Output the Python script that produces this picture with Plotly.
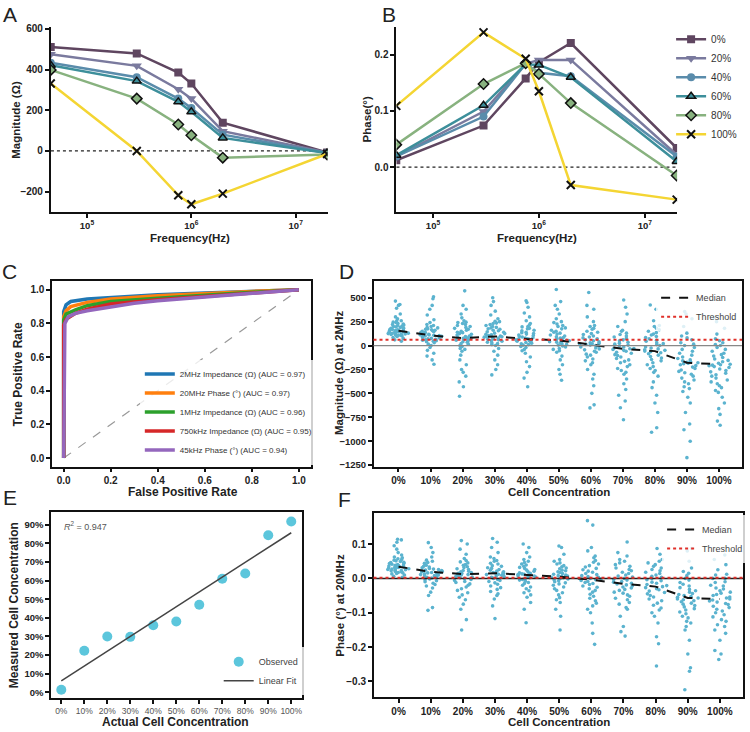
import numpy as np
import plotly.graph_objects as go

W, H = 750, 732
FONT = "Liberation Sans, Arial, sans-serif"

# ---------------- data: panels A / B ----------------
freq_hz = [45e3, 300e3, 750e3, 1e6, 2e6, 20e6]
series_names = ["0%", "20%", "40%", "60%", "80%", "100%"]
mag_0 = [510, 479, 385, 331, 139, -8]
mag_20 = [475, 418, 303, 257, 97, -8]
mag_40 = [433, 362, 257, 211, 80, -10]
mag_60 = [421, 343, 241, 192, 64, -10]
mag_80 = [398, 257, 130, 77, -33, -18]
mag_100 = [331, 0, -218, -262, -210, -15]
phase_0 = [0.012, 0.074, 0.158, 0.187, 0.221, 0.034]
phase_20 = [0.019, 0.099, 0.184, 0.191, 0.191, 0.022]
phase_40 = [0.019, 0.090, 0.184, 0.168, 0.162, 0.019]
phase_60 = [0.021, 0.110, 0.183, 0.182, 0.160, 0.010]
phase_80 = [0.040, 0.148, 0.185, 0.166, 0.114, -0.015]
phase_100 = [0.109, 0.240, 0.193, 0.135, -0.032, -0.058]

# ---------------- data: panel C (ROC) ----------------
roc_names = ["2MHz Impedance (\u03a9) (AUC = 0.97)", "20MHz Phase (\u00b0) (AUC = 0.97)",
             "1MHz Impedance (\u03a9) (AUC = 0.96)", "750kHz Impedance (\u03a9) (AUC = 0.95)",
             "45kHz Phase (\u00b0) (AUC = 0.94)"]
fpr_2mhz = [0, 0, 0.01, 0.03, 0.1, 0.2, 0.4, 0.6, 0.8, 1.0]
tpr_2mhz = [0, 0.87, 0.91, 0.93, 0.945, 0.955, 0.97, 0.98, 0.99, 1.0]
fpr_20mhz = [0, 0, 0.01, 0.03, 0.1, 0.2, 0.4, 0.6, 0.8, 1.0]
tpr_20mhz = [0, 0.84, 0.875, 0.9, 0.925, 0.945, 0.965, 0.98, 0.99, 1.0]
fpr_1mhz = [0, 0, 0.01, 0.05, 0.1, 0.2, 0.4, 0.6, 0.8, 1.0]
tpr_1mhz = [0, 0.82, 0.855, 0.88, 0.905, 0.93, 0.95, 0.97, 0.985, 1.0]
fpr_750k = [0, 0, 0.01, 0.05, 0.1, 0.2, 0.4, 0.6, 0.8, 1.0]
tpr_750k = [0, 0.79, 0.825, 0.86, 0.885, 0.915, 0.94, 0.96, 0.98, 1.0]
fpr_45k = [0, 0.005, 0.02, 0.05, 0.1, 0.2, 0.3, 0.4, 0.6, 0.8, 1.0]
tpr_45k = [0, 0.80, 0.84, 0.86, 0.875, 0.9, 0.92, 0.935, 0.955, 0.975, 1.0]
chance_x = [0, 1]
chance_y = [0, 1]

# ---------------- data: panels D / F ----------------
conc_labels = ["0%", "10%", "20%", "30%", "40%", "50%", "60%", "70%", "80%", "90%", "100%"]
mag2mhz = [
    [465, 430, 420, 390, 330, 300, 280, 260, 245, 230, 220, 210, 200, 195, 185, 180, 170, 165, 160, 155, 150, 145, 140, 135, 130, 125, 120, 115, 110, 100, 95, 85, 75, 60, 45,
     260, 240, 225, 215, 205, 190, 178, 168, 158, 152, 148, 142, 138, 128, 122, 118, 108, 104],
    [510, 490, 420, 380, 320, 270, 240, 220, 200, 185, 170, 160, 150, 140, 130, 120, 112, 107, 100, 92, 85, 75, 65, 55, 45, 30, 15, 0, -20, -50, -80, -110, -150, -196,
     210, 190, 175, 165, 155, 145, 135, 125, 118, 110, 104, 97, 90, 80, 70, 60, 50, 40],
    [572, 420, 380, 330, 290, 260, 240, 220, 200, 180, 160, 140, 125, 110, 95, 85, 79, 70, 55, 40, 20, 0, -30, -60, -100, -150, -200, -250, -280, -320, -380, -430, -530,
     245, 230, 210, 190, 170, 150, 135, 118, 100, 90, 82, 75, 65, 50, 35, 15, -10, -40],
    [500, 460, 420, 360, 320, 280, 250, 230, 210, 190, 175, 160, 145, 130, 118, 105, 96, 88, 78, 65, 50, 35, 20, 0, -30, -60, -100, -150, -200, -250, -307,
     255, 235, 220, 200, 185, 170, 155, 140, 125, 112, 100, 92, 84, 72, 60, 45, 30, 10],
    [469, 450, 400, 340, 300, 260, 230, 200, 180, 160, 140, 125, 110, 95, 82, 69, 60, 50, 38, 25, 10, -10, -40, -80, -120, -170, -220, -280, -340, -431,
     215, 195, 175, 155, 135, 120, 105, 90, 78, 72, 66, 55, 45, 32, 18, 5, -20, -55],
    [586, 460, 420, 380, 330, 280, 240, 210, 185, 160, 140, 120, 100, 85, 70, 55, 45, 35, 20, 5, -15, -40, -70, -110, -150, -200, -250, -300, -362,
     250, 225, 200, 175, 150, 130, 110, 92, 78, 62, 58, 50, 40, 28, 12, -5, -30, -55],
    [555, 420, 380, 300, 250, 210, 180, 150, 125, 100, 80, 60, 40, 25, 10, 0, -15, -35, -60, -90, -120, -160, -200, -250, -300, -350, -420, -500, -620, -652,
     200, 170, 140, 115, 90, 70, 50, 30, 18, 12, 5, -5, -25, -45, -70, -100, -140, -180],
    [476, 400, 330, 250, 200, 160, 130, 100, 75, 50, 25, 5, -15, -34, -50, -70, -95, -120, -150, -180, -220, -260, -300, -350, -400, -460, -520, -580, -650, -776,
     150, 115, 90, 60, 35, 15, -5, -25, -30, -40, -60, -80, -105, -135, -165, -200, -240, -280],
    [424, 380, 260, 210, 180, 150, 120, 95, 70, 45, 20, 0, -25, -45, -58, -75, -100, -130, -160, -200, -240, -280, -320, -380, -440, -520, -600, -700, -860, -907,
     200, 165, 135, 110, 85, 55, 30, 10, -15, -35, -50, -65, -85, -115, -145, -180, -220, -260],
    [355, 330, 280, 200, 130, 80, 30, 0, -40, -80, -120, -150, -170, -179, -190, -210, -240, -270, -300, -340, -380, -430, -480, -540, -600, -700, -820, -880, -1000, -1172,
     100, 60, 15, -20, -60, -100, -135, -160, -175, -185, -200, -225, -255, -285, -320, -360, -400, -450],
    [293, 250, 180, 120, 70, 30, 0, -40, -80, -110, -140, -170, -196, -210, -230, -260, -290, -320, -360, -400, -440, -490, -540, -600, -660, -720, -790, -834,
     50, 10, -20, -60, -95, -125, -155, -185, -200, -205, -220, -245, -275, -305, -340, -380, -420, -470],
]
mag2mhz_median = [155, 107, 79, 96, 69, 55, 10, -34, -58, -179, -196]
mag2mhz_threshold = 62

phase20mhz = [
    [0.114, 0.112, 0.105, 0.095, 0.085, 0.075, 0.068, 0.062, 0.057, 0.053, 0.049, 0.046, 0.043, 0.040, 0.038, 0.036, 0.034, 0.032, 0.030, 0.028, 0.026, 0.024, 0.022, 0.019, 0.016, 0.013, 0.010, 0.006, 0.003,
     0.060, 0.055, 0.051, 0.047, 0.044, 0.041, 0.039, 0.037, 0.035, 0.033, 0.031, 0.029, 0.027, 0.025, 0.023, 0.020, 0.017, 0.014],
    [0.104, 0.09, 0.075, 0.062, 0.053, 0.046, 0.040, 0.035, 0.031, 0.027, 0.024, 0.021, 0.019, 0.017, 0.014, 0.011, 0.008, 0.005, 0.001, -0.004, -0.010, -0.018, -0.028, -0.040, -0.050, -0.085, -0.093,
     0.050, 0.044, 0.038, 0.033, 0.029, 0.026, 0.023, 0.020, 0.018, 0.016, 0.013, 0.010, 0.007, 0.003, -0.002, -0.007, -0.014, -0.022],
    [0.11, 0.10, 0.085, 0.07, 0.058, 0.048, 0.040, 0.034, 0.028, 0.023, 0.019, 0.015, 0.0125, 0.010, 0.006, 0.002, -0.003, -0.009, -0.016, -0.025, -0.035, -0.048, -0.062, -0.075, -0.09, -0.12, -0.15,
     0.052, 0.045, 0.038, 0.032, 0.026, 0.021, 0.017, 0.014, 0.011, 0.008, 0.004, 0.0, -0.006, -0.012, -0.02, -0.03, -0.042, -0.055],
    [0.116, 0.105, 0.09, 0.075, 0.062, 0.052, 0.044, 0.037, 0.031, 0.026, 0.021, 0.017, 0.015, 0.012, 0.009, 0.005, 0.0, -0.006, -0.013, -0.022, -0.032, -0.045, -0.06, -0.08, -0.117,
     0.058, 0.05, 0.042, 0.035, 0.029, 0.024, 0.019, 0.016, 0.014, 0.011, 0.007, 0.003, -0.003, -0.009, -0.017, -0.027, -0.038, -0.05],
    [0.10, 0.09, 0.075, 0.062, 0.05, 0.042, 0.035, 0.029, 0.024, 0.019, 0.015, 0.012, 0.010, 0.007, 0.004, 0.0, -0.005, -0.012, -0.02, -0.03, -0.042, -0.055, -0.07, -0.09, -0.129,
     0.055, 0.046, 0.039, 0.032, 0.026, 0.021, 0.016, 0.013, 0.011, 0.008, 0.005, 0.002, -0.003, -0.008, -0.015, -0.025, -0.036, -0.048],
    [0.094, 0.09, 0.07, 0.055, 0.045, 0.037, 0.030, 0.024, 0.019, 0.014, 0.010, 0.007, 0.005, 0.002, -0.002, -0.007, -0.013, -0.02, -0.03, -0.042, -0.056, -0.07, -0.09, -0.11, -0.15,
     0.05, 0.042, 0.034, 0.028, 0.022, 0.017, 0.012, 0.008, 0.006, 0.003, 0.0, -0.004, -0.01, -0.016, -0.025, -0.035, -0.048, -0.062],
    [0.168, 0.155, 0.09, 0.08, 0.065, 0.052, 0.042, 0.033, 0.025, 0.018, 0.011, 0.005, 0.0, -0.004, -0.009, -0.015, -0.022, -0.03, -0.04, -0.052, -0.065, -0.08, -0.1, -0.13, -0.16, -0.192,
     0.06, 0.047, 0.037, 0.029, 0.021, 0.014, 0.008, 0.003, -0.002, -0.006, -0.012, -0.018, -0.026, -0.035, -0.046, -0.058, -0.072, -0.09],
    [0.106, 0.075, 0.065, 0.05, 0.04, 0.03, 0.022, 0.014, 0.007, 0.0, -0.005, -0.011, -0.016, -0.022, -0.028, -0.035, -0.043, -0.052, -0.062, -0.075, -0.09, -0.11, -0.14, -0.155, -0.168,
     0.055, 0.045, 0.035, 0.026, 0.018, 0.01, 0.004, -0.003, -0.009, -0.014, -0.019, -0.025, -0.032, -0.04, -0.048, -0.058, -0.07, -0.085],
    [0.087, 0.07, 0.055, 0.045, 0.035, 0.026, 0.018, 0.01, 0.003, -0.004, -0.011, -0.018, -0.024, -0.03, -0.037, -0.045, -0.054, -0.065, -0.078, -0.092, -0.11, -0.13, -0.17, -0.19, -0.255,
     0.05, 0.04, 0.03, 0.022, 0.014, 0.006, 0.0, -0.007, -0.014, -0.021, -0.027, -0.033, -0.041, -0.05, -0.06, -0.072, -0.086, -0.1],
    [0.087, 0.08, 0.05, 0.03, 0.015, 0.0, -0.012, -0.022, -0.032, -0.04, -0.047, -0.053, -0.057, -0.062, -0.068, -0.075, -0.083, -0.092, -0.103, -0.115, -0.13, -0.15, -0.18, -0.22, -0.26, -0.27, -0.324,
     0.02, 0.008, -0.005, -0.017, -0.027, -0.036, -0.044, -0.05, -0.055, -0.06, -0.065, -0.072, -0.079, -0.088, -0.098, -0.11, -0.125, -0.14],
    [0.068, 0.055, 0.04, 0.025, 0.012, 0.0, -0.012, -0.022, -0.031, -0.04, -0.047, -0.054, -0.06, -0.066, -0.073, -0.081, -0.09, -0.1, -0.112, -0.125, -0.14, -0.16, -0.18, -0.21, -0.22, -0.236,
     0.01, 0.0, -0.01, -0.02, -0.028, -0.036, -0.043, -0.05, -0.057, -0.063, -0.069, -0.076, -0.085, -0.095, -0.106, -0.12, -0.135, -0.15],
]
phase20mhz_median = [0.034, 0.019, 0.0125, 0.015, 0.010, 0.005, -0.004, -0.016, -0.024, -0.057, -0.060]
phase20mhz_threshold = 0.002

# ---------------- data: panel E ----------------
actual_conc = [0, 10, 20, 30, 40, 50, 60, 70, 80, 90, 100]
measured_conc = [1.4, 22.3, 30.0, 29.8, 36.0, 38.0, 47.0, 61.0, 63.8, 84.4, 91.7]
measured_ticks = [0, 10, 20, 30, 40, 50, 60, 70, 80, 90]
r2_text = "0.947"

# ---------------- styles ----------------
series_colors = ["#5f4660", "#7a7a9e", "#5a8cab", "#3d8f9b", "#88b27f", "#f4d533"]
series_markers = [
    dict(symbol="square", size=8, color=series_colors[0]),
    dict(symbol="triangle-down", size=9, color=series_colors[1]),
    dict(symbol="circle", size=8, color=series_colors[2]),
    dict(symbol="triangle-up", size=8, color=series_colors[3], line=dict(color="#111", width=1.5)),
    dict(symbol="diamond", size=8, color=series_colors[4], line=dict(color="#111", width=1.5)),
    dict(symbol="x-thin", size=8, color="#111", line=dict(color="#111", width=2)),
]
roc_colors = ["#1f77b4", "#ff7f0e", "#2ca02c", "#d62728", "#9467bd"]
dot_color = "#5bb3cf"


def dom(x0, x1, y0, y1):
    return [x0 / W, x1 / W], [1 - y1 / H, 1 - y0 / H]


fig = go.Figure()

mags = [mag_0, mag_20, mag_40, mag_60, mag_80, mag_100]
phases = [phase_0, phase_20, phase_40, phase_60, phase_80, phase_100]
for i, name in enumerate(series_names):
    fig.add_trace(go.Scatter(x=freq_hz, y=mags[i], mode="lines+markers", name=name,
                             line=dict(color=series_colors[i], width=2.5),
                             marker=series_markers[i], showlegend=False,
                             xaxis="x", yaxis="y"))
for i, name in enumerate(series_names):
    fig.add_trace(go.Scatter(x=freq_hz, y=phases[i], mode="lines+markers", name=name,
                             line=dict(color=series_colors[i], width=2.5),
                             marker=series_markers[i], showlegend=True, legend="legend",
                             xaxis="x2", yaxis="y2"))

# panel C
roc_x = [fpr_2mhz, fpr_20mhz, fpr_1mhz, fpr_750k, fpr_45k]
roc_y = [tpr_2mhz, tpr_20mhz, tpr_1mhz, tpr_750k, tpr_45k]
fig.add_trace(go.Scatter(x=chance_x, y=chance_y, mode="lines", showlegend=False,
                         line=dict(color="#999", width=1.2, dash="dash"), xaxis="x3", yaxis="y3"))
for i, name in enumerate(roc_names):
    fig.add_trace(go.Scatter(x=roc_x[i], y=roc_y[i], mode="lines", name=name,
                             line=dict(color=roc_colors[i], width=3.5),
                             legend="legend2", xaxis="x3", yaxis="y3"))


def strip(values, axx, axy):
    xs, ys = [], []
    for k, vals in enumerate(values):
        xs += [k] * len(vals)
        ys += vals
    return go.Box(x=xs, y=ys, boxpoints="all", jitter=1, pointpos=0, width=0.72,
                  fillcolor="rgba(0,0,0,0)", line=dict(color="rgba(0,0,0,0)", width=0),
                  marker=dict(size=3.6, color=dot_color), showlegend=False,
                  xaxis=axx, yaxis=axy, hoveron="points")


cat_idx = list(range(len(conc_labels)))

# panel D
fig.add_trace(strip(mag2mhz, "x4", "y4"))
fig.add_trace(go.Scatter(x=cat_idx, y=mag2mhz_median, mode="lines", name="Median",
                         line=dict(color="#111", width=2, dash="dash"),
                         legend="legend3", xaxis="x4", yaxis="y4"))
fig.add_trace(go.Scatter(x=[None], y=[None], mode="lines", name="Threshold",
                         line=dict(color="#e0302a", width=2, dash="dot"),
                         legend="legend3", xaxis="x4", yaxis="y4"))

# panel F
fig.add_trace(strip(phase20mhz, "x6", "y6"))
fig.add_trace(go.Scatter(x=cat_idx, y=phase20mhz_median, mode="lines", name="Median",
                         line=dict(color="#111", width=2, dash="dash"),
                         legend="legend5", xaxis="x6", yaxis="y6"))
fig.add_trace(go.Scatter(x=[None], y=[None], mode="lines", name="Threshold",
                         line=dict(color="#e0302a", width=2, dash="dot"),
                         legend="legend5", xaxis="x6", yaxis="y6"))

# panel E
slope, intercept = np.polyfit(actual_conc, measured_conc, 1)
fit_x = [min(actual_conc), max(actual_conc)]
fit_y = [slope * v + intercept for v in fit_x]
fig.add_trace(go.Scatter(x=actual_conc, y=measured_conc, mode="markers", name="Observed",
                         marker=dict(size=10, color="#5cc6dc"),
                         legend="legend4", xaxis="x5", yaxis="y5"))
fig.add_trace(go.Scatter(x=fit_x, y=fit_y, mode="lines", name="Linear Fit",
                         line=dict(color="#444", width=1.5),
                         legend="legend4", xaxis="x5", yaxis="y5"))

# ---------------- axes ----------------
tick_bold = dict(family=FONT, size=10, color="#222", weight="bold")
prism = dict(showline=True, linecolor="#111", linewidth=2, ticks="outside", ticklen=4,
             tickwidth=2, tickcolor="#111", showgrid=False, zeroline=False,
             tickfont=tick_bold)
prism_log = {**prism, "tickfont": dict(family=FONT, size=9.5, color="#222", weight="bold")}
boxax = dict(showline=True, linecolor="#111", linewidth=2, mirror=True, ticks="outside",
             ticklen=3.5, tickwidth=1.5, tickcolor="#111", showgrid=False, zeroline=False,
             tickfont=tick_bold)

xa, ya = dom(51, 328, 24, 211)
xb, yb = dom(397, 678, 24, 211)
xc, yc = dom(52, 311, 281, 468)
xd, yd = dom(374, 743, 281, 468)
xe, ye = dom(51, 302, 514, 702)
xf, yf = dom(374, 744, 515, 701)

logticks = [1e5, 1e6, 1e7]
logtext = ["10<sup>5</sup>", "10<sup>6</sup>", "10<sup>7</sup>"]

fig.update_layout(
    xaxis=dict(domain=xa, anchor="y", type="log", range=[4.655, 7.305],
               tickvals=logticks, ticktext=logtext, **prism_log),
    yaxis=dict(domain=ya, anchor="x", range=[-300, 610], tickvals=[-200, 0, 200, 400, 600], **prism),
    xaxis2=dict(domain=xb, anchor="y2", type="log", range=[4.655, 7.305],
                tickvals=logticks, ticktext=logtext, **prism_log),
    yaxis2=dict(domain=yb, anchor="x2", range=[-0.08, 0.25], tickvals=[0, 0.1, 0.2],
                tickformat=".1f", **prism),
    xaxis3=dict(domain=xc, anchor="y3", range=[-0.05, 1.05], tickvals=[0, 0.2, 0.4, 0.6, 0.8, 1.0],
                tickformat=".1f", **boxax),
    yaxis3=dict(domain=yc, anchor="x3", range=[-0.05, 1.05], tickvals=[0, 0.2, 0.4, 0.6, 0.8, 1.0],
                tickformat=".1f", **boxax),
    xaxis4=dict(domain=xd, anchor="y4", range=[-0.78, 10.72], tickvals=cat_idx,
                ticktext=conc_labels, **boxax),
    yaxis4=dict(domain=yd, anchor="x4", range=[-1265, 672],
                tickvals=[-1250, -1000, -750, -500, -250, 0, 250, 500],
                **{**boxax, "tickfont": dict(family=FONT, size=9.5, color="#222", weight="bold")}),
    xaxis5=dict(domain=xe, anchor="y5", range=[-4.5, 104.5], tickvals=actual_conc,
                ticktext=[f"{v}%" for v in actual_conc],
                **{**boxax, "tickfont": dict(family=FONT, size=8.5, color="#555")}),
    yaxis5=dict(domain=ye, anchor="x5", range=[-3.2, 96.8], tickvals=measured_ticks,
                ticktext=[f"{v}%" for v in measured_ticks],
                **{**boxax, "tickfont": dict(family=FONT, size=9.5, color="#222", weight="bold")}),
    xaxis6=dict(domain=xf, anchor="y6", range=[-0.78, 10.72], tickvals=cat_idx,
                ticktext=conc_labels, **boxax),
    yaxis6=dict(domain=yf, anchor="x6", range=[-0.346, 0.19],
                tickvals=[-0.3, -0.2, -0.1, 0.0, 0.1], tickformat=".1f", **boxax),
)

# reference lines
fig.add_shape(type="line", xref="x domain", yref="y", x0=0, x1=1, y0=0, y1=0,
              line=dict(color="#222", width=1.2, dash="dot"), layer="below")
fig.add_shape(type="line", xref="x2 domain", yref="y2", x0=0, x1=1, y0=0, y1=0,
              line=dict(color="#222", width=1.2, dash="dot"), layer="below")
fig.add_shape(type="line", xref="x4 domain", yref="y4", x0=0, x1=1, y0=0, y1=0,
              line=dict(color="#888", width=1.3))
fig.add_shape(type="line", xref="x4 domain", yref="y4", x0=0, x1=1,
              y0=mag2mhz_threshold, y1=mag2mhz_threshold,
              line=dict(color="#e0302a", width=2, dash="dot"))
fig.add_shape(type="line", xref="x6 domain", yref="y6", x0=0, x1=1, y0=0, y1=0,
              line=dict(color="#222", width=1.5))
fig.add_shape(type="line", xref="x6 domain", yref="y6", x0=0, x1=1,
              y0=phase20mhz_threshold, y1=phase20mhz_threshold,
              line=dict(color="#e0302a", width=2, dash="dot"))

# ---------------- text ----------------
ann = []


def label(text, px, py, size=11.5, angle=0, bold=True, color="#222", xanchor="center"):
    ann.append(dict(text=text, x=px / W, y=1 - py / H, xref="paper", yref="paper",
                    showarrow=False, textangle=angle, xanchor=xanchor, yanchor="middle",
                    font=dict(family=FONT, size=size, color=color,
                              weight="bold" if bold else "normal")))


for letter, px, py in [("A", 10, 12), ("B", 390, 12), ("C", 10, 271), ("D", 347, 271),
                       ("E", 10, 499), ("F", 345, 501)]:
    label(letter, px, py, size=21, bold=False, color="#222")

label("Magnitude (\u03a9)", 16, 118, angle=-90)
label("Frequency(Hz)", 190, 237)
label("Phase(\u00b0)", 367, 118, angle=-90)
label("Frequency(Hz)", 538, 237)
label("True Positive Rate", 18, 375, size=12, angle=-90)
label("False Positive Rate", 183, 494, size=12)
label("Magnitude (\u03a9) at 2MHz", 340, 374, angle=-90)
label("Cell Concentration", 560, 494)
label("Measured Cell Concentration", 14, 608, size=12, angle=-90)
label("Actual Cell Concentration", 176, 726, size=12)
label("Phase (\u00b0) at 20MHz", 341, 608, angle=-90)
label("Cell Concentration", 560, 726)
label("<i>R</i><sup>2</sup> = " + r2_text, 62, 528, size=9, bold=False, color="#555", xanchor="left")

leg_common = dict(borderwidth=0, xanchor="left", itemwidth=30)
fig.update_layout(
    annotations=ann,
    width=W, height=H, autosize=False,
    margin=dict(l=0, r=0, t=0, b=0),
    paper_bgcolor="white", plot_bgcolor="white",
    font=dict(family=FONT, color="#222"),
    legend=dict(x=672 / W, y=1 - 22 / H, yanchor="top", bgcolor="rgba(0,0,0,0)",
                font=dict(family=FONT, size=10, color="#333"), **leg_common),
    legend2=dict(x=140 / W, y=1 - 466 / H, yanchor="bottom", bgcolor="rgba(255,255,255,0.8)",
                 font=dict(family=FONT, size=8, color="#333"), **leg_common),
    legend3=dict(x=657 / W, y=1 - 283 / H, yanchor="top", bgcolor="rgba(255,255,255,0.8)",
                 font=dict(family=FONT, size=9, color="#444"), **leg_common),
    legend4=dict(x=219 / W, y=1 - 699 / H, yanchor="bottom", bgcolor="rgba(255,255,255,0.8)",
                 font=dict(family=FONT, size=9, color="#444"), **leg_common),
    legend5=dict(x=663 / W, y=1 - 517 / H, yanchor="top", bgcolor="rgba(255,255,255,0.8)",
                 font=dict(family=FONT, size=9, color="#444"), **leg_common),
)

fig.write_html("out.html")
